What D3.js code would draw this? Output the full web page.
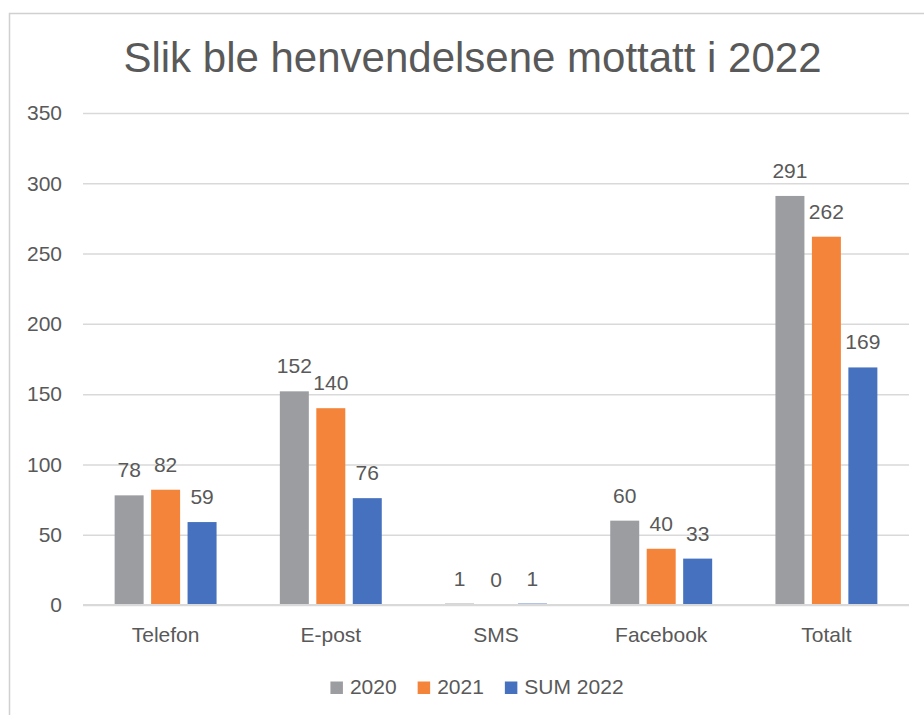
<!DOCTYPE html>
<html>
<head>
<meta charset="utf-8">
<script src="https://cdn.jsdelivr.net/npm/d3@7"></script>
<style>
  body { margin: 0; background: #fff; }
  text { font-family: "Liberation Sans", Arial, sans-serif; fill: #595959; }
</style>
</head>
<body>
<div id="chart"></div>
<script>
// data
const categories = ["Telefon", "E-post", "SMS", "Facebook", "Totalt"];
const seriesNames = ["2020", "2021", "SUM 2022"];
const values2020 = [78, 152, 1, 60, 291];
const values2021 = [82, 140, 0, 40, 262];
const valuesSum2022 = [59, 76, 1, 33, 169];
const yTicks = [0, 50, 100, 150, 200, 250, 300, 350];
const colors = ["#9b9da1", "#f5843b", "#4571be"];
const title = "Slik ble henvendelsene mottatt i 2022";

const W = 924, H = 715;
const plot = { left: 83, right: 909, top: 113, bottom: 605 };

const allSeries = [values2020, values2021, valuesSum2022];
const rows = categories.map((c, i) => ({
  cat: c,
  vals: seriesNames.map((s, j) => ({ key: s, value: allSeries[j][i], color: colors[j] }))
}));

const svg = d3.select("#chart").append("svg")
  .attr("width", W)
  .attr("height", H);

// frame (left and top edges visible)
svg.append("path")
  .attr("d", "M9.5,716 V13.5 H925")
  .attr("fill", "none")
  .attr("stroke", "#d0d0d0")
  .attr("stroke-width", 1.5);

// title
svg.append("text")
  .attr("x", 472.5)
  .attr("y", 72)
  .attr("text-anchor", "middle")
  .style("font-size", "42px")
  .text(title);

// scales
const y = d3.scaleLinear().domain([0, 350]).range([plot.bottom, plot.top]);
const x0 = d3.scaleBand().domain(categories)
  .range([plot.left, plot.right])
  .paddingInner(0.383).paddingOuter(0.1915);
const x1 = d3.scaleBand().domain(seriesNames)
  .range([0, x0.bandwidth()])
  .paddingInner(0.205).paddingOuter(0);

// gridlines + y labels
const yAxis = d3.axisLeft(y).tickValues(yTicks)
  .tickSize(-(plot.right - plot.left)).tickPadding(21);
const gy = svg.append("g")
  .attr("transform", "translate(" + plot.left + ",0)")
  .call(yAxis);
gy.select(".domain").remove();
gy.selectAll(".tick line").attr("stroke", "#d9d9d9").attr("stroke-width", 1.5);
gy.selectAll(".tick text")
  .style("font-size", "21px")
  .attr("fill", "#595959")
  .attr("font-family", null);

// x labels
const xAxis = d3.axisBottom(x0).tickSize(0).tickPadding(22);
const gx = svg.append("g")
  .attr("transform", "translate(0," + plot.bottom + ")")
  .call(xAxis);
gx.select(".domain").remove();
gx.selectAll(".tick text")
  .style("font-size", "21px")
  .attr("fill", "#595959")
  .attr("font-family", null);

// bars
const groups = svg.append("g").selectAll("g")
  .data(rows)
  .enter().append("g")
  .attr("transform", d => "translate(" + x0(d.cat) + ",0)");

groups.selectAll("rect")
  .data(d => d.vals)
  .enter().append("rect")
  .attr("x", d => x1(d.key))
  .attr("width", x1.bandwidth())
  .attr("y", d => y(d.value))
  .attr("height", d => y(0) - y(d.value))
  .attr("fill", d => d.color);

groups.selectAll("text.val")
  .data(d => d.vals)
  .enter().append("text")
  .attr("class", "val")
  .attr("x", d => x1(d.key) + x1.bandwidth() / 2)
  .attr("y", d => y(d.value) - 18)
  .attr("text-anchor", "middle")
  .style("font-size", "21px")
  .text(d => d.value);

// category axis line on top of the bars
svg.append("line")
  .attr("x1", plot.left).attr("x2", plot.right)
  .attr("y1", y(0)).attr("y2", y(0))
  .attr("stroke", "#d9d9d9")
  .attr("stroke-width", 2);

// legend
const legend = svg.append("g");
let lx = 0;
seriesNames.forEach((s, i) => {
  const item = legend.append("g").attr("transform", "translate(" + lx + ",0)");
  item.append("rect")
    .attr("x", 0).attr("y", 681.5)
    .attr("width", 12.5).attr("height", 12.5)
    .attr("fill", colors[i]);
  const t = item.append("text")
    .attr("x", 19.5).attr("y", 694)
    .style("font-size", "21px")
    .text(s);
  lx += 19.5 + t.node().getComputedTextLength() + 21;
});
const legendW = lx - 21;
legend.attr("transform", "translate(" + (477 - legendW / 2) + ",0)");
</script>
</body>
</html>
